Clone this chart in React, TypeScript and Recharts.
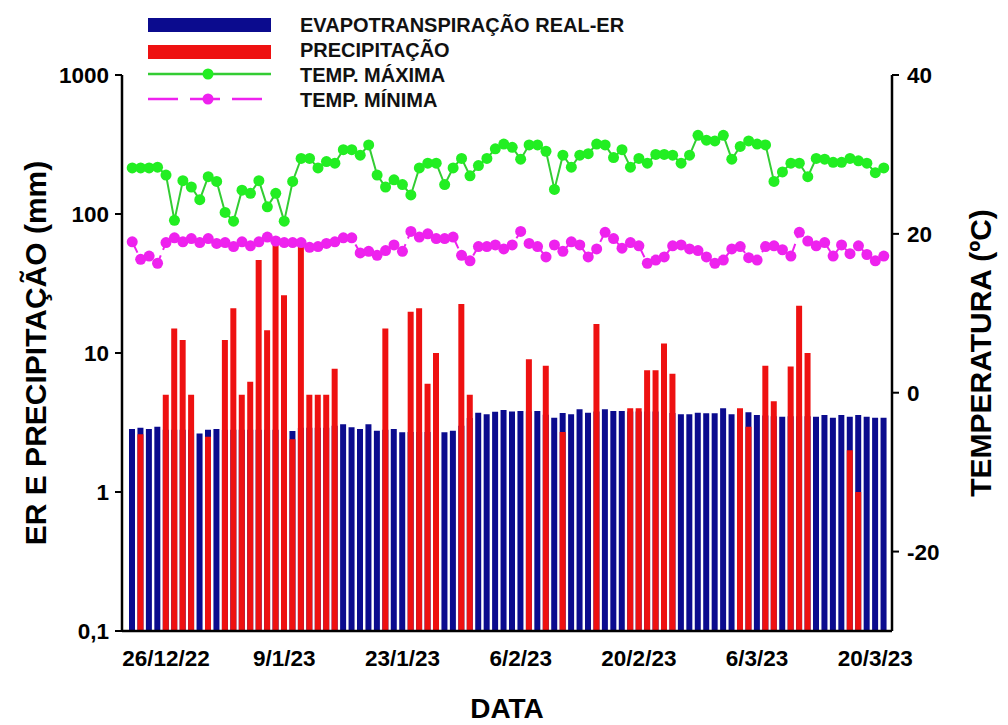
import React from "react";
import { ComposedChart, Bar, Line, XAxis, YAxis, Label } from "recharts";

const FONT = "'Liberation Sans', Arial, sans-serif";

// daily values, 22/12/22 .. 21/3/23
const er = [
  2.84, 2.9, 2.84, 2.95, 2.8, 2.8, 2.8, 2.8, 2.64, 2.8,
  2.84, 2.8, 2.8, 2.8, 2.8, 2.8, 2.8, 2.8, 2.8, 2.75,
  2.9, 2.9, 2.9, 2.9, 3.0, 3.07, 2.92, 2.84, 3.07, 2.76,
  2.8, 2.84, 2.69, 2.7, 2.7, 2.7, 2.7, 2.69, 2.76, 3.0,
  3.4, 3.72, 3.62, 3.78, 3.89, 3.8, 3.83, 3.8, 3.83, 3.6,
  3.42, 3.7, 3.62, 3.94, 3.72, 3.8, 3.94, 3.83, 3.83, 3.8,
  3.8, 3.8, 3.8, 3.7, 3.7, 3.62, 3.62, 3.72, 3.68, 3.68,
  4.0, 3.62, 3.6, 3.74, 3.58, 3.55, 3.5, 3.48, 3.5, 3.5,
  3.5, 3.48, 3.58, 3.42, 3.58, 3.48, 3.58, 3.48, 3.42, 3.42,
];

const precip = [
  null, 2.6, null, null, 5.0, 15, 12.4, 5.0, null, 2.5,
  null, 12.4, 21, 5.0, 6.2, 46.7, 14.6, 60, 26, 2.4,
  58, 5.0, 5.0, 5.0, 7.7, null, null, null, null, null,
  15, null, null, 19.8, 21, 6.0, 10, null, null, 22.5,
  5.0, null, null, null, null, null, null, 9.0, null, 8.1,
  null, 2.7, null, null, null, 16.2, null, null, null, 4.0,
  4.0, 7.5, 7.5, 11.7, 7.1, null, null, null, null, null,
  null, null, 4.0, 2.95, null, 8.1, 4.5, null, 8.0, 21.9,
  10, null, null, null, null, 2.0, 1.0, null, null, null,
];

const tMax = [
  28.3, 28.3, 28.3, 28.4, 27.4, 21.7, 26.7, 25.9, 24.3, 27.2,
  26.6, 22.7, 21.6, 25.5, 25.1, 26.7, 23.4, 25.1, 21.6, 26.6,
  29.5, 29.5, 28.3, 29.1, 28.9, 30.6, 30.6, 29.9, 31.2, 27.4,
  25.9, 26.8, 26.2, 24.9, 28.3, 28.9, 28.9, 26.2, 28.3, 29.5,
  27.3, 28.6, 29.5, 30.7, 31.3, 30.9, 29.4, 31.2, 31.2, 30.4,
  25.6, 29.9, 28.4, 29.9, 30.1, 31.3, 31.2, 29.6, 30.6, 28.4,
  29.5, 28.9, 30.0, 30.0, 29.9, 28.9, 29.9, 32.4, 31.8, 31.7,
  32.4, 29.4, 31.0, 31.7, 31.3, 31.2, 26.6, 27.8, 28.9, 28.9,
  27.2, 29.5, 29.4, 29.0, 29.0, 29.5, 29.2, 28.9, 27.7, 28.3,
];

const tMin = [
  19.0, 16.8, 17.2, 16.3, 18.9, 19.5, 19.0, 19.4, 18.9, 19.4,
  18.8, 18.9, 18.4, 19.0, 18.5, 19.0, 19.6, 19.1, 18.9, 18.9,
  18.9, 18.3, 18.4, 18.8, 19.0, 19.5, 19.5, 17.6, 17.8, 17.3,
  17.9, 18.6, 17.8, 20.3, 19.6, 20.0, 19.4, 19.4, 19.6, 17.3,
  16.6, 18.4, 18.4, 18.6, 18.1, 18.6, 20.3, 18.8, 18.4, 17.1,
  18.6, 17.8, 19.0, 18.6, 17.1, 18.1, 20.2, 19.4, 18.2, 18.9,
  18.5, 16.3, 16.7, 17.1, 18.5, 18.6, 18.1, 17.9, 17.1, 16.3,
  16.7, 18.1, 18.4, 17.0, 16.7, 18.4, 18.5, 18.0, 17.2, 20.2,
  19.1, 18.5, 18.9, 17.2, 18.6, 17.5, 18.5, 17.4, 16.6, 17.2,
];

const dateTicks = ["26/12/22", "9/1/23", "23/1/23", "6/2/23", "20/2/23", "6/3/23", "20/3/23"];
const mmTicks = [0.1, 1, 10, 100, 1000];
const tempTicks = [-20, 0, 20, 40];

const dayLabel = (i: number) => {
  const d = new Date(Date.UTC(2022, 11, 22 + i));
  return `${d.getUTCDate()}/${d.getUTCMonth() + 1}/${String(d.getUTCFullYear()).slice(2)}`;
};

const data = er.map((v, i) => ({
  date: dayLabel(i),
  er: v,
  p: precip[i],
  tmax: tMax[i],
  tmin: tMin[i],
}));

const BLUE = "#0b0b8e";
const RED = "#ee1111";
const GREEN = "#22ee22";
const MAGENTA = "#ee22ee";

const tickStyle = { fill: "#000", fontSize: 22.5, fontWeight: "bold", fontFamily: FONT };

const VTitle = ({ viewBox, value, dxPos }: any) => {
  const x = viewBox.x + dxPos;
  const y = viewBox.y + viewBox.height / 2;
  return (
    <text
      x={x}
      y={y}
      transform={`rotate(-90 ${x} ${y})`}
      textAnchor="middle"
      dominantBaseline="central"
      fontFamily={FONT}
      fontWeight="bold"
      fontSize={30}
      fill="#000"
    >
      {value}
    </text>
  );
};

const LegendBox = () => {
  const labels = ["EVAPOTRANSPIRAÇÃO REAL-ER", "PRECIPITAÇÃO", "TEMP. MÁXIMA", "TEMP. MÍNIMA"];
  return (
    <svg width={720} height={115} style={{ position: "absolute", left: 0, top: 0 }}>
      <rect x={148} y={18} width={123} height={14} fill={BLUE} />
      <rect x={148} y={45} width={123} height={14} fill={RED} />
      <line x1={148} x2={271} y1={74} y2={74} stroke="#33cc33" strokeWidth={2.5} />
      <circle cx={208} cy={74} r={5.5} fill={GREEN} />
      <line x1={148} x2={271} y1={99} y2={99} stroke={MAGENTA} strokeWidth={2.5} strokeDasharray="30 12" />
      <circle cx={208} cy={99} r={5.5} fill={MAGENTA} />
      {labels.map((t, i) => (
        <text key={t} x={300} y={32 + i * 25} fontFamily={FONT} fontWeight="bold" fontSize={20} fill="#111">
          {t}
        </text>
      ))}
    </svg>
  );
};

export default function App() {
  return (
    <div style={{ position: "absolute", left: 0, top: 0, width: 1008, height: 725, background: "#fff" }}>
      <ComposedChart width={1008} height={725} data={data} margin={{ top: 75, right: 0, bottom: 0, left: 0 }}>
        <XAxis
          xAxisId="er"
          dataKey="date"
          height={94}
          interval={0}
          padding={{ left: 6, right: 4 }}
          tickLine={false}
          tickSize={6}
          tickMargin={13}
          axisLine={{ stroke: "#000", strokeWidth: 2.5 }}
          tick={tickStyle}
          tickFormatter={(d: string) => (dateTicks.includes(d) ? d : "")}
        >
          <Label
            content={({ viewBox }: any) => (
              <text
                x={viewBox.x + viewBox.width / 2}
                y={viewBox.y + 87}
                textAnchor="middle"
                fontFamily={FONT}
                fontWeight="bold"
                fontSize={28}
                fill="#000"
              >
                DATA
              </text>
            )}
          />
        </XAxis>
        <XAxis xAxisId="p" dataKey="date" hide padding={{ left: 6, right: 4 }} />
        <YAxis
          yAxisId="mm"
          width={122}
          scale="log"
          domain={[0.1, 1000]}
          ticks={mmTicks}
          allowDataOverflow
          tickSize={7}
          tickMargin={6}
          tickLine={{ stroke: "#000", strokeWidth: 2 }}
          axisLine={{ stroke: "#000", strokeWidth: 2.5 }}
          tick={tickStyle}
          tickFormatter={(v: number) => String(v).replace(".", ",")}
        >
          <Label content={(p: any) => <VTitle {...p} value="ER E PRECIPITAÇÃO (mm)" dxPos={35} />} />
        </YAxis>
        <YAxis
          yAxisId="t"
          orientation="right"
          width={116}
          domain={[-30, 40]}
          ticks={tempTicks}
          allowDataOverflow
          tickSize={7}
          tickMargin={8}
          tickLine={{ stroke: "#000", strokeWidth: 2 }}
          axisLine={{ stroke: "#000", strokeWidth: 2.5 }}
          tick={tickStyle}
        >
          <Label content={(p: any) => <VTitle {...p} value="TEMPERATURA (ºC)" dxPos={88} />} />
        </YAxis>
        <Bar xAxisId="er" yAxisId="mm" dataKey="er" barSize={6} fill={BLUE} isAnimationActive={false} />
        <Bar xAxisId="p" yAxisId="mm" dataKey="p" barSize={6} fill={RED} isAnimationActive={false} />
        <Line
          xAxisId="er"
          yAxisId="t"
          dataKey="tmax"
          stroke="#33cc33"
          strokeWidth={2}
          dot={{ r: 5.5, fill: GREEN, stroke: GREEN, strokeWidth: 0 }}
          isAnimationActive={false}
        />
        <Line
          xAxisId="er"
          yAxisId="t"
          dataKey="tmin"
          stroke={MAGENTA}
          strokeWidth={2}
          strokeDasharray="12 6"
          dot={{ r: 5.5, fill: MAGENTA, stroke: MAGENTA, strokeWidth: 0, strokeDasharray: "" }}
          isAnimationActive={false}
        />
      </ComposedChart>
      <LegendBox />
    </div>
  );
}
